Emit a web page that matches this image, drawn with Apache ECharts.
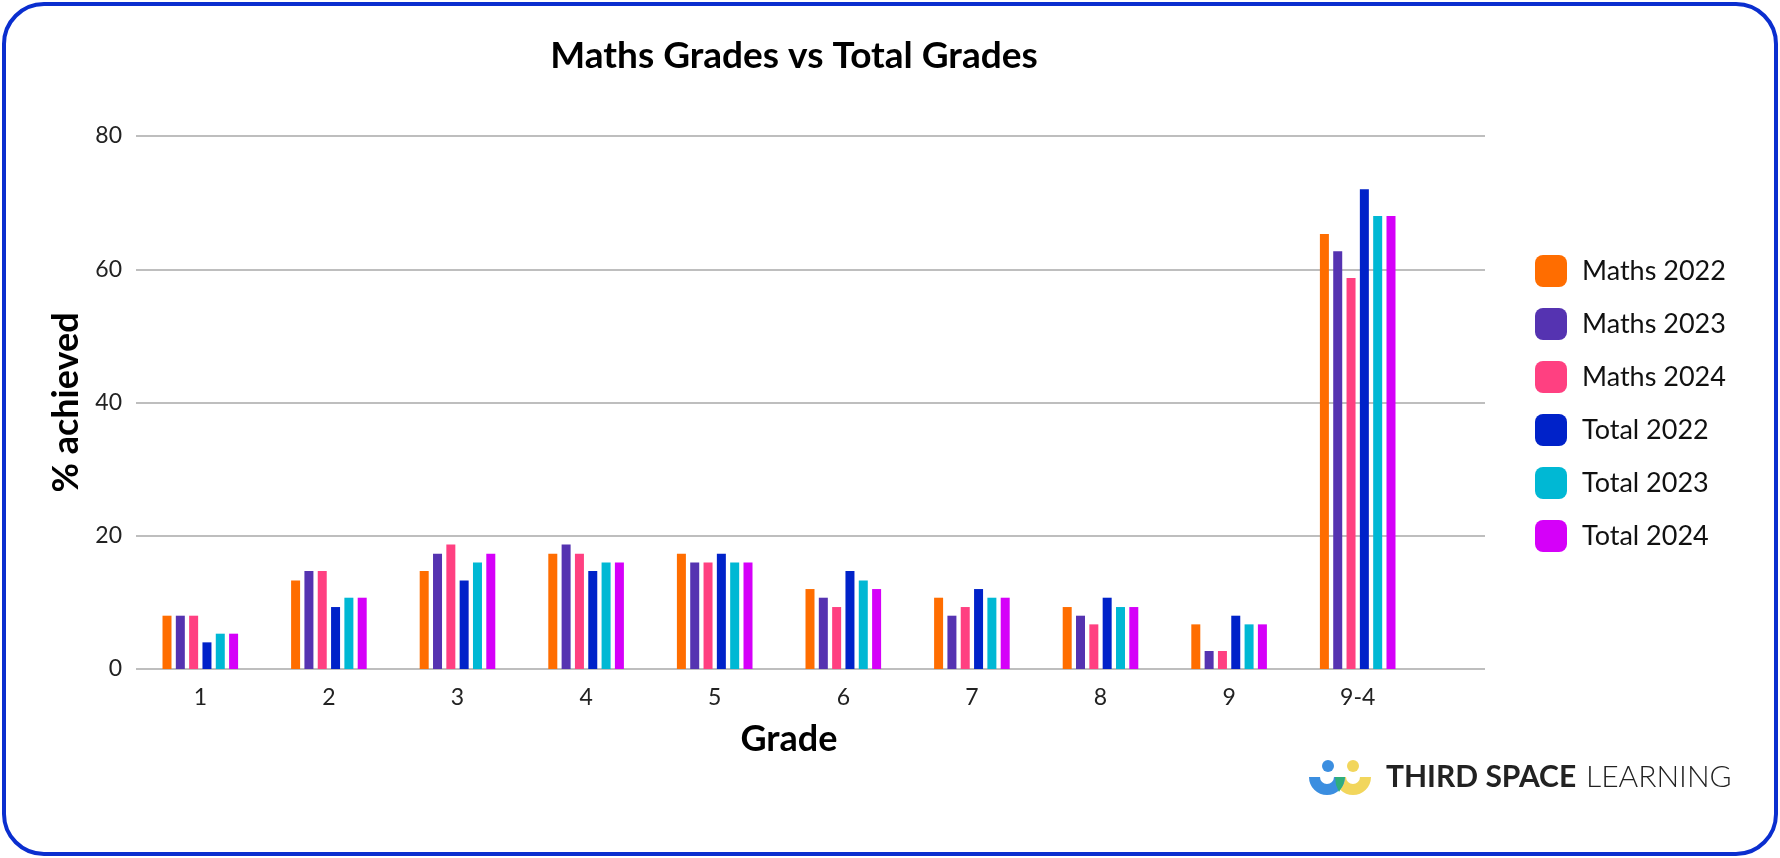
<!DOCTYPE html>
<html>
<head>
<meta charset="utf-8">
<script src="https://cdn.jsdelivr.net/npm/echarts@6/dist/echarts.min.js"></script>
<style>
html,body{margin:0;padding:0;background:#fff;}
#chart{width:1780px;height:858px;}
</style>
</head>
<body>
<div id="chart"></div>
<script>
const categories = ['1','2','3','4','5','6','7','8','9','9-4'];
const maths2022 = [8, 13.3, 14.7, 17.3, 17.3, 12, 10.7, 9.3, 6.7, 65.3];
const maths2023 = [8, 14.7, 17.3, 18.7, 16, 10.7, 8, 8, 2.7, 62.7];
const maths2024 = [8, 14.7, 18.7, 17.3, 16, 9.3, 9.3, 6.7, 2.7, 58.7];
const total2022 = [4, 9.3, 13.3, 14.7, 17.3, 14.7, 12, 10.7, 8, 72];
const total2023 = [5.3, 10.7, 16, 16, 16, 13.3, 10.7, 9.3, 6.7, 68];
const total2024 = [5.3, 10.7, 17.3, 16, 16, 12, 10.7, 9.3, 6.7, 68];
const seriesNames = ['Maths 2022','Maths 2023','Maths 2024','Total 2022','Total 2023','Total 2024'];
const seriesData = [maths2022, maths2023, maths2024, total2022, total2023, total2024];
const colors = ['#ff6d00','#5533b1','#ff4081','#0022c9','#00b8d4','#d500f9'];

const FONT = 'Lato, "Open Sans", sans-serif';
const chart = echarts.init(document.getElementById('chart'), null, {renderer:'canvas'});

const option = {
  backgroundColor: '#ffffff',
  color: colors,
  animation: false,
  title: {
    text: 'Maths Grades vs Total Grades',
    left: 789, top: 33, textAlign: 'center',
    textStyle: {fontFamily: FONT, fontSize: 37, fontWeight: 'bold', color: '#000'}
  },
  legend: {
    orient: 'vertical',
    left: 1530, top: 250,
    itemWidth: 32, itemHeight: 32, itemGap: 21,
    icon: 'roundRect',
    textStyle: {fontFamily: FONT, fontSize: 27, color: '#111', padding: [0,0,0,10]},
    data: seriesNames
  },
  grid: [
    {left: 136, right: 295, top: 136, bottom: 189},
    {left: 136, right: 358, top: 136, bottom: 189}
  ],
  xAxis: [
    {gridIndex: 0, type: 'value', min: 0, max: 1, show: false},
    {gridIndex: 1, type: 'category', data: categories,
     axisLine: {show: false}, axisTick: {show: false},
     axisLabel: {fontFamily: FONT, fontSize: 23, color: '#222', margin: 17},
     name: 'Grade', nameLocation: 'middle', nameGap: 52,
     nameTextStyle: {fontFamily: FONT, fontSize: 36, fontWeight: 'bold', color: '#000', padding: [0,0,0,20]}
    }
  ],
  yAxis: [
    {gridIndex: 0, type: 'value', min: 0, max: 80, interval: 20,
     axisLine: {show: false}, axisTick: {show: false},
     axisLabel: {fontFamily: FONT, fontSize: 23, color: '#222', margin: 14},
     splitLine: {lineStyle: {color: '#a8a8a8', width: 1.5}},
     name: '% achieved', nameLocation: 'middle', nameGap: 45, nameRotate: 90,
     nameTextStyle: {fontFamily: FONT, fontSize: 36, fontWeight: 'bold', color: '#000'}
    },
    {gridIndex: 1, type: 'value', min: 0, max: 80, interval: 20, show: false, splitLine: {show: false}}
  ],
  series: seriesNames.map((n, i) => ({
    name: n, type: 'bar', xAxisIndex: 1, yAxisIndex: 1,
    data: seriesData[i], barWidth: 9, barGap: '48%'
  })),
  graphic: [
    {type: 'rect', shape: {x: 4, y: 4, width: 1772, height: 850, r: 40},
     style: {fill: 'none', stroke: '#0a2ecf', lineWidth: 4}, z: 100},
    {type: 'sector', shape: {cx: 1353, cy: 777, r: 18, r0: 7, startAngle: 0, endAngle: Math.PI, clockwise: true},
     style: {fill: '#f2d65c'}, z: 100},
    {type: 'sector', shape: {cx: 1327, cy: 777, r: 18, r0: 7, startAngle: 0, endAngle: Math.PI, clockwise: true},
     style: {fill: '#3b8ee0'}, z: 101},
    {type: 'polygon', shape: {points: [[1335,777],[1345,777],[1343,785],[1339,792],[1336,785]]},
     style: {fill: '#2fae7c'}, z: 102},
    {type: 'circle', shape: {cx: 1328, cy: 766, r: 6}, style: {fill: '#3b8ee0'}, z: 101},
    {type: 'circle', shape: {cx: 1353, cy: 766, r: 6}, style: {fill: '#f2d65c'}, z: 101},
    {type: 'text', left: 1386, top: 762,
     style: {text: 'THIRD SPACE', fontFamily: FONT, fontSize: 30, fontWeight: 'bold', fill: '#222'}, z: 101},
    {type: 'text', left: 1586, top: 762,
     style: {text: 'LEARNING', fontFamily: FONT, fontSize: 30, fontWeight: 300, fill: '#222'}, z: 101}
  ]
};
chart.setOption(option);
</script>
</body>
</html>
